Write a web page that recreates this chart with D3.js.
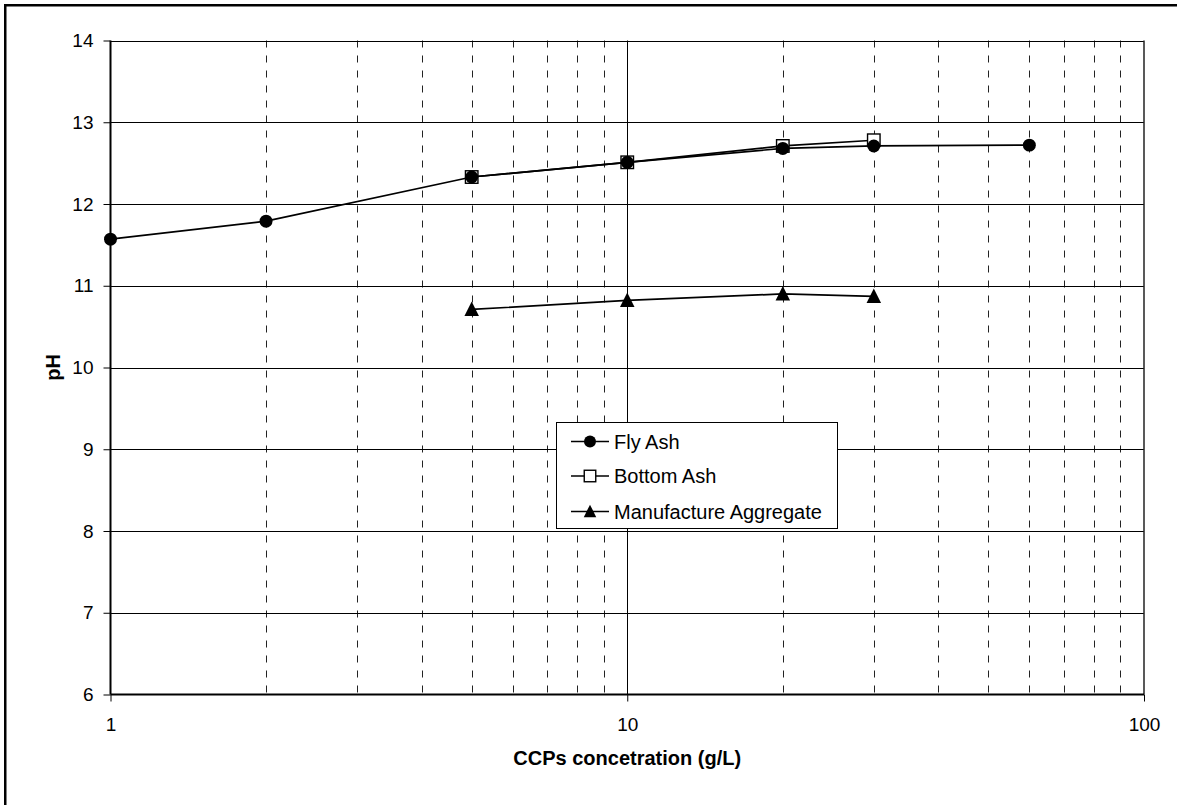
<!DOCTYPE html>
<html>
<head>
<meta charset="utf-8">
<script src="https://cdn.jsdelivr.net/npm/d3@7/dist/d3.min.js"></script>
<style>
  html, body { margin: 0; padding: 0; background: #fff; }
  svg { display: block; font-family: "Liberation Sans", Arial, sans-serif; }
</style>
</head>
<body>
<svg id="chart" width="1177" height="805"></svg>
<script>
// Concentration (g/L) and pH values for each material
const flyAshX = [1, 2, 5, 10, 20, 30, 60];
const flyAshY = [11.57, 11.79, 12.33, 12.51, 12.68, 12.71, 12.72];

const bottomAshX = [5, 10, 20, 30];
const bottomAshY = [12.33, 12.51, 12.71, 12.78];

const aggregateX = [5, 10, 20, 30];
const aggregateY = [10.71, 10.82, 10.90, 10.87];

const seriesNames = ["Fly Ash", "Bottom Ash", "Manufacture Aggregate"];
const xTickValues = [1, 10, 100];
const yTickValues = [6, 7, 8, 9, 10, 11, 12, 13, 14];
const xMinorGrid = [2, 3, 4, 5, 6, 7, 8, 9, 20, 30, 40, 50, 60, 70, 80, 90];

const svg = d3.select("#chart");

// Outer chart frame
svg.append("rect")
  .attr("x", 5.25).attr("y", 5.25)
  .attr("width", 1200).attr("height", 840)
  .attr("fill", "none").attr("stroke", "#000").attr("stroke-width", 2.5);

const plot = { left: 110.5, top: 40.5, right: 1144, bottom: 694.5 };

const x = d3.scaleLog().domain([1, 100]).range([plot.left, plot.right]);
const y = d3.scaleLinear().domain([6, 14]).range([plot.bottom, plot.top]);

const g = svg.append("g");

// Dashed vertical gridlines at the minor decades
g.selectAll("line.minor").data(xMinorGrid).enter().append("line")
  .attr("class", "minor")
  .attr("x1", d => Math.round(x(d)) + 0.5).attr("x2", d => Math.round(x(d)) + 0.5)
  .attr("y1", plot.top).attr("y2", plot.bottom)
  .attr("stroke", "#222").attr("stroke-width", 1)
  .attr("stroke-dasharray", "7,8");

// Solid vertical gridline at 10
g.append("line")
  .attr("x1", Math.round(x(10)) + 0.5).attr("x2", Math.round(x(10)) + 0.5)
  .attr("y1", plot.top).attr("y2", plot.bottom)
  .attr("stroke", "#000").attr("stroke-width", 1);

// Horizontal gridlines
g.selectAll("line.hgrid").data(yTickValues.slice(1)).enter().append("line")
  .attr("class", "hgrid")
  .attr("x1", plot.left).attr("x2", plot.right)
  .attr("y1", d => Math.round(y(d)) + 0.5).attr("y2", d => Math.round(y(d)) + 0.5)
  .attr("stroke", "#000").attr("stroke-width", 1);

// Right border of the plot area
g.append("line")
  .attr("x1", plot.right).attr("x2", plot.right)
  .attr("y1", plot.top).attr("y2", plot.bottom)
  .attr("stroke", "#222").attr("stroke-width", 1.5);

// Axes
const xAxis = d3.axisBottom(x).tickValues(xTickValues).tickFormat(d3.format("d"))
  .tickSize(7).tickPadding(16);
const yAxis = d3.axisLeft(y).tickValues(yTickValues).tickFormat(d3.format("d"))
  .tickSize(7).tickPadding(10);

const gx = svg.append("g").attr("transform", `translate(0,${plot.bottom})`).call(xAxis);
const gy = svg.append("g").attr("transform", `translate(${plot.left},0)`).call(yAxis);

[gx, gy].forEach(a => {
  a.select(".domain").attr("stroke", "#000").attr("stroke-width", 2);
  a.selectAll(".tick line").attr("stroke", "#000").attr("stroke-width", 1);
  a.selectAll(".tick text").attr("fill", "#000")
    .style("font-size", "19px").style("font-family", "'Liberation Sans', Arial, sans-serif");
});
gx.select(".domain").attr("d", `M${plot.left},0H${plot.right}`);
gy.select(".domain").attr("d", `M0,${plot.bottom}V${plot.top}`);

// Axis titles
svg.append("text")
  .attr("x", (plot.left + plot.right) / 2).attr("y", 765)
  .attr("text-anchor", "middle")
  .style("font-size", "20px").style("font-weight", "bold")
  .text("CCPs concetration (g/L)");

svg.append("text")
  .attr("transform", `translate(60,${(plot.top + plot.bottom) / 2}) rotate(-90)`)
  .attr("text-anchor", "middle")
  .style("font-size", "20px").style("font-weight", "bold")
  .text("pH");

// Series
const line = d3.line().x(d => x(d[0])).y(d => y(d[1]));
const zip = (a, b) => a.map((v, i) => [v, b[i]]);

const series = [
  { name: seriesNames[0], pts: zip(flyAshX, flyAshY), marker: "circle" },
  { name: seriesNames[1], pts: zip(bottomAshX, bottomAshY), marker: "square" },
  { name: seriesNames[2], pts: zip(aggregateX, aggregateY), marker: "triangle" }
];

function drawMarker(sel, type, cx, cy, s) {
  if (type === "circle") {
    sel.append("circle").attr("cx", cx).attr("cy", cy).attr("r", s * 0.48)
      .attr("fill", "#000");
  } else if (type === "square") {
    sel.append("rect").attr("x", cx - s / 2 + 0.5).attr("y", cy - s / 2 + 0.5)
      .attr("width", s - 1).attr("height", s - 1)
      .attr("fill", "#fff").attr("stroke", "#000").attr("stroke-width", 1.4);
  } else {
    const h = s;
    sel.append("path")
      .attr("d", `M${cx},${cy - h * 0.55}L${cx + s / 2},${cy + h * 0.45}L${cx - s / 2},${cy + h * 0.45}Z`)
      .attr("fill", "#000");
  }
}

// Draw series in order: bottom ash under fly ash
const drawOrder = [series[1], series[2], series[0]];
drawOrder.forEach(s => {
  const sg = svg.append("g");
  sg.append("path").datum(s.pts).attr("d", line)
    .attr("fill", "none").attr("stroke", "#000").attr("stroke-width", 1.7);
  s.pts.forEach(p => drawMarker(sg, s.marker, x(p[0]), y(p[1]), s.marker === "triangle" ? 14.5 : 13.5));
});

// Legend
const lg = svg.append("g");
lg.append("rect")
  .attr("x", 556.5).attr("y", 422.5).attr("width", 281).attr("height", 106)
  .attr("fill", "#fff").attr("stroke", "#000").attr("stroke-width", 1);

const legendRowsY = [441.5, 476, 511.5];
series.forEach((s, i) => {
  const cy = legendRowsY[i];
  lg.append("line").attr("x1", 571).attr("x2", 609).attr("y1", cy).attr("y2", cy)
    .attr("stroke", "#000").attr("stroke-width", 1.7);
  drawMarker(lg, s.marker, 590, cy, 12.5);
  lg.append("text").attr("x", 614).attr("y", cy).attr("dy", "0.35em")
    .style("font-size", "20px").text(s.name);
});
</script>
</body>
</html>
